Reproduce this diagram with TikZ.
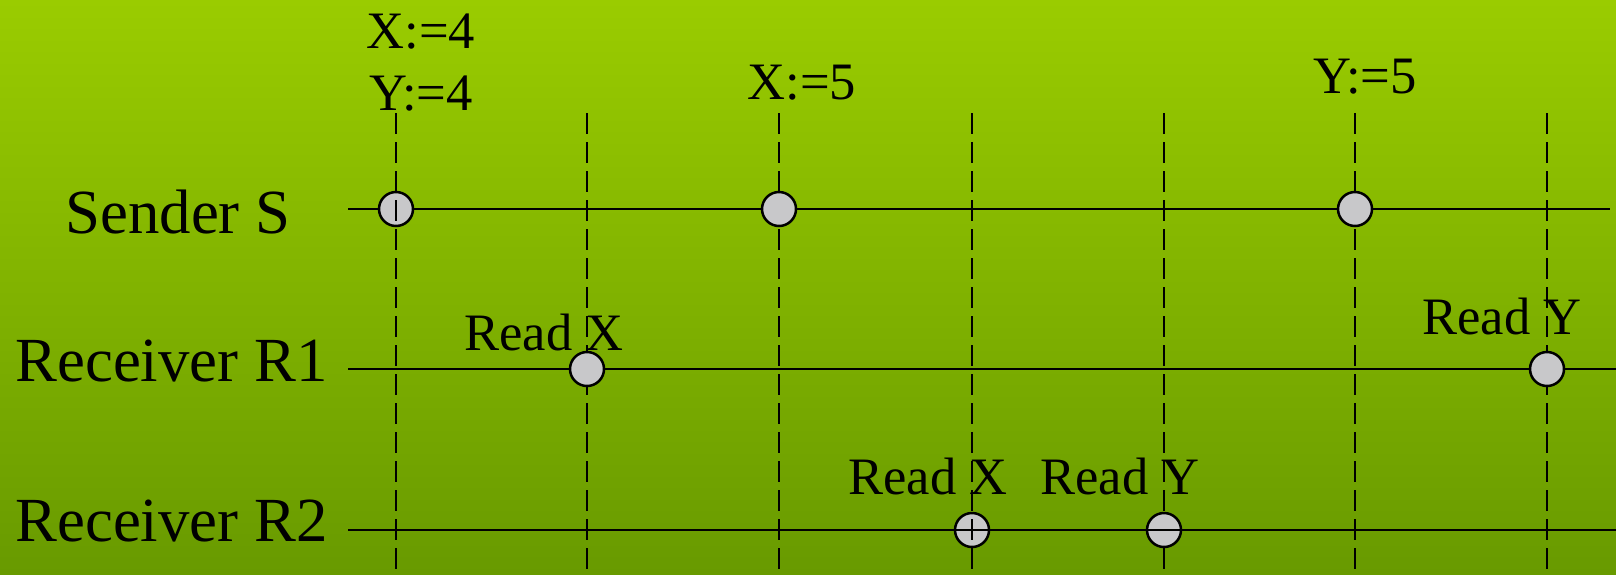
\documentclass[tikz,border=0pt]{standalone}
\usepackage{fontspec}
\setmainfont{Liberation Serif}
\usetikzlibrary{positioning}
\definecolor{bgtop}{RGB}{154,204,0}
\definecolor{bgbottom}{RGB}{104,154,0}
\definecolor{evgray}{RGB}{200,200,202}
\tikzset{
  event/.style={circle, draw, fill=evgray, line width=1.25pt, minimum size=17pt, inner sep=0pt},
  timeline/.style={line width=1.15pt},
  cut/.style={line width=1pt, dash pattern=on 10.5pt off 4pt},
  procname/.style={anchor=base west, inner sep=0pt, font=\fontsize{31.4}{36}\selectfont},
  oplabel/.style={anchor=base, inner sep=0pt, font=\fontsize{26.3}{30}\selectfont}
}
\begin{document}
\begin{tikzpicture}[x=0.5pt, y=-0.5pt]
   % background
   \shade[top color=bgtop, bottom color=bgbottom] (0,0) rectangle (1616,574);
   \useasboundingbox (0,0) rectangle (1616,574);

   % process names
   \node[procname] (sname) at (65,233) {Sender S};
   \node[procname] (r1name) at (15,381) {Receiver R1};
   \node[procname] (r2name) at (15,541) {Receiver R2};

   % ends of the time lines
   \coordinate (s_l) at (348,209);   \coordinate (s_r) at (1610,209);
   \coordinate (r1_l) at (348,369);  \coordinate (r1_r) at (1616,369);
   \coordinate (r2_l) at (348,530);  \coordinate (r2_r) at (1616,530);

   % ends of the dashed cuts
   \coordinate (c1_t) at (396,113);   \coordinate (c1_b) at (396,574);
   \coordinate (c2_t) at (587,113);   \coordinate (c2_b) at (587,574);
   \coordinate (c3_t) at (779,113);   \coordinate (c3_b) at (779,574);
   \coordinate (c4_t) at (972,113);   \coordinate (c4_b) at (972,574);
   \coordinate (c5_t) at (1164,113);  \coordinate (c5_b) at (1164,574);
   \coordinate (c6_t) at (1355,113);  \coordinate (c6_b) at (1355,574);
   \coordinate (c7_t) at (1547,113);  \coordinate (c7_b) at (1547,574);

   % sender line, then the events that lie under the cuts
   \draw[timeline] (s_l) -- (s_r);
   \node[event] (s_1) at (396,209) {};
   \node[event] (r2_1) at (972,530) {};

   % dashed cuts
   \draw[cut] (c1_t) -- (c1_b);
   \draw[cut] (c2_t) -- (c2_b);
   \draw[cut] (c3_t) -- (c3_b);
   \draw[cut] (c4_t) -- (c4_b);
   \draw[cut] (c5_t) -- (c5_b);
   \draw[cut] (c6_t) -- (c6_b);
   \draw[cut] (c7_t) -- (c7_b);

   \node[event] (r2_2) at (1164,530) {};

   % receiver lines
   \draw[timeline] (r1_l) -- (r1_r);
   \draw[timeline] (r2_l) -- (r2_r);

   % remaining events
   \node[event] (s_2) at (779,209) {};
   \node[event] (s_3) at (1355,209) {};
   \node[event] (r1_1) at (587,369) {};
   \node[event] (r1_2) at (1547,369) {};

   % operation labels
   \node[oplabel] (wx4) at (421,48) {X:=4};
   \node[oplabel] (wy4) at (421,110) {Y:=4};
   \node[oplabel] (wx5) at (802,99) {X:=5};
   \node[oplabel] (wy5) at (1365,93) {Y:=5};
   \node[oplabel] (r1x) at (544,350) {Read X};
   \node[oplabel] (r1y) at (1502,334) {Read Y};
   \node[oplabel] (r2x) at (928,494) {Read X};
   \node[oplabel] (r2y) at (1120,494) {Read Y};
\end{tikzpicture}
\end{document}
